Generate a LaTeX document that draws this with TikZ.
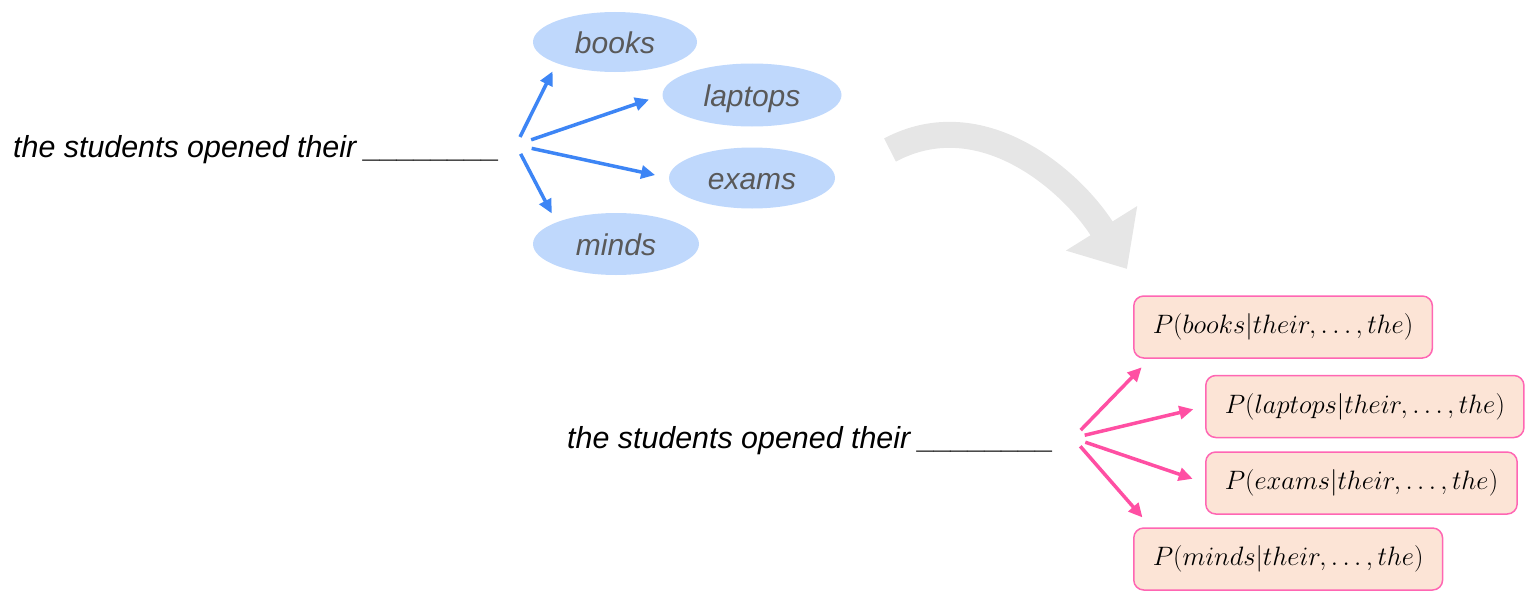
\RequirePackage{fix-cm}
\documentclass[tikz,border=0pt]{standalone}
\usepackage{fontspec}
\setmainfont{Liberation Sans}
\usetikzlibrary{arrows.meta,shapes.geometric,positioning}
\definecolor{guessfill}{HTML}{BFD8FC}
\definecolor{guesstext}{HTML}{595959}
\definecolor{arrowblue}{HTML}{3D85F5}
\definecolor{arrowpink}{HTML}{FF4FA3}
\definecolor{probline}{HTML}{FF66B3}
\definecolor{probfill}{HTML}{FCE4D6}
\definecolor{bendgray}{HTML}{E6E6E6}
\tikzset{
sentence/.style= {inner sep=0pt, anchor=base west, font=\fontsize{30.4}{36}\selectfont\itshape},
guess/.style= {ellipse, inner sep=0pt, text height=24pt, text depth=2pt, fill=guessfill, text=guesstext, font=\fontsize{30}{36}\selectfont\itshape},
prob/.style= {rectangle, rounded corners=10pt, line width=1.5pt, draw=probline, fill=probfill, anchor=west, minimum height=62pt, inner xsep=19pt, font=\fontsize{26.6}{32}\selectfont},
bluearrow/.style= {->, draw=arrowblue, line width=3.5pt},
pinkarrow/.style= {->, draw=arrowpink, line width=3.5pt},
bigarrow/.style= {draw=bendgray, line width=26pt, -{Triangle[length=48pt,width=81pt]}}
}

\begin{document}
\begin{tikzpicture}[
x=1pt, y=1pt,
>={Triangle[length=14pt,width=13pt]}]
\useasboundingbox (0,0) rectangle (1530,-594);

% the sentence and the words that may follow it
\node[sentence] (ctx) at (13,-157) {the students opened their \_\_\_\_\_\_\_\_};
\node[guess, minimum width=164pt, minimum height=60pt] (books) at (615,-42) {books};
\node[guess, minimum width=179pt, minimum height=63pt] (laptops) at (752,-95) {laptops};
\node[guess, minimum width=166pt, minimum height=61pt] (exams) at (752,-178) {exams};
\node[guess, minimum width=166pt, minimum height=62pt] (minds) at (616,-244) {minds};

\coordinate (bfork) at (516,-145);
\foreach \goal/\s/\e in {books.200/9/9, laptops.west/16/14, exams.west/16/14, minds.160/10/10}
  \draw[bluearrow, shorten <=\s pt, shorten >=\e pt] (bfork) -- (\goal);

% the big grey arrow
\coordinate (bendfrom) at (890,-150);
\coordinate (bendto) at (1127,-269);
\draw[bigarrow] (bendfrom) to[out=28,in=122] (bendto);

% the same sentence with a probability for each word
\node[sentence] (ctx2) at (567,-448) {the students opened their \_\_\_\_\_\_\_\_};
\node[prob] (pbooks) at (1133,-327) {$P(books|their,\ldots,the)$};
\node[prob] (plaptops) at (1205,-406.5) {$P(laptops|their,\ldots,the)$};
\node[prob] (pexams) at (1205,-483) {$P(exams|their,\ldots,the)$};
\node[prob] (pminds) at (1133,-559) {$P(minds|their,\ldots,the)$};

\coordinate (pfork) at (1073,-438);
\coordinate (pbooksin) at ([xshift=17pt]pbooks.south west);
\coordinate (pmindsin) at ([xshift=18pt]pminds.north west);
\foreach \goal/\s/\e in {pbooksin/11/12, plaptops.west/12/12, pexams.west/13/13, pmindsin/11/13}
  \draw[pinkarrow, shorten <=\s pt, shorten >=\e pt] (pfork) -- (\goal);

\end{tikzpicture}
\end{document}
